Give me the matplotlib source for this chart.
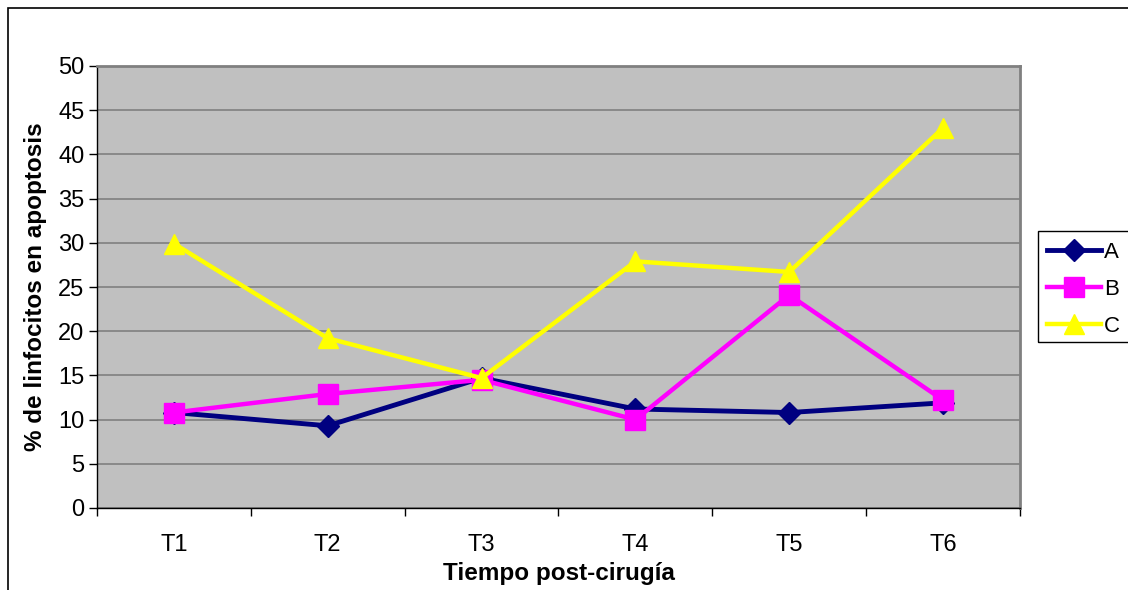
import matplotlib.pyplot as plt
from matplotlib.patches import Rectangle

plt.rcParams['font.family'] = ['Liberation Sans', 'DejaVu Sans']

# Datos
tiempos = ['T1', 'T2', 'T3', 'T4', 'T5', 'T6']
serie_a = [10.8, 9.3, 14.7, 11.2, 10.8, 11.9]
serie_b = [10.8, 12.9, 14.5, 10.0, 24.1, 12.2]
serie_c = [29.9, 19.2, 14.7, 27.9, 26.7, 43.0]

fig = plt.figure(figsize=(11.28, 5.90), dpi=100)
ax = fig.add_axes([97/1128, 82/590, 923/1128, 442/590])
ax.set_facecolor('#C0C0C0')

x = list(range(len(tiempos)))
ax.plot(x, serie_a, color='#000080', lw=3.5, marker='D', ms=11, label='A')
ax.plot(x, serie_b, color='#FF00FF', lw=3.2, marker='s', ms=14, label='B')
ax.plot(x, serie_c, color='#FFFF00', lw=3.2, marker='^', ms=15, label='C')

ax.set_xlim(-0.5, 5.5)
ax.set_ylim(0, 50)
ax.set_yticks(range(0, 51, 5))
ax.grid(axis='y', color='#808080', lw=1.2)
ax.set_axisbelow(True)

ax.set_xticks(x)
ax.set_xticklabels(tiempos)
ax.set_xticks([i - 0.5 for i in range(7)], minor=True)
ax.tick_params(axis='x', which='major', length=0, pad=19, labelsize=17)
ax.tick_params(axis='x', which='minor', length=6, width=1, direction='out')
ax.tick_params(axis='y', length=6, width=1, pad=3, labelsize=17)

for s in ['top', 'right']:
    ax.spines[s].set_color('#808080')
    ax.spines[s].set_linewidth(2)
for s in ['left', 'bottom']:
    ax.spines[s].set_color('black')
    ax.spines[s].set_linewidth(1)

ax.set_xlabel('Tiempo post-cirugía', fontsize=17.5, fontweight='bold', labelpad=4)
ax.set_ylabel('% de linfocitos en apoptosis', fontsize=17.5, fontweight='bold', labelpad=8)

# Marco exterior del gráfico
borde = Rectangle((8/1128, -0.1), 1.2, 1 - 8/590 + 0.1, transform=fig.transFigure,
                  fill=False, edgecolor='black', lw=1.2, clip_on=False)
fig.patches.append(borde)

# Caja de la leyenda (cortada por el borde derecho)
caja = Rectangle((1038/1128, 1 - 342/590), 0.2, 111/590, transform=fig.transFigure,
                 fill=False, edgecolor='black', lw=1, clip_on=False)
fig.patches.append(caja)

leg = fig.legend(loc='upper left', bbox_to_anchor=(1038/1128, 1 - 233/590),
                 fontsize=16, frameon=False, borderpad=0.4,
                 handlelength=2.45, handletextpad=0.12, labelspacing=0.72,
                 borderaxespad=0)

plt.savefig('out.png', dpi=100)
